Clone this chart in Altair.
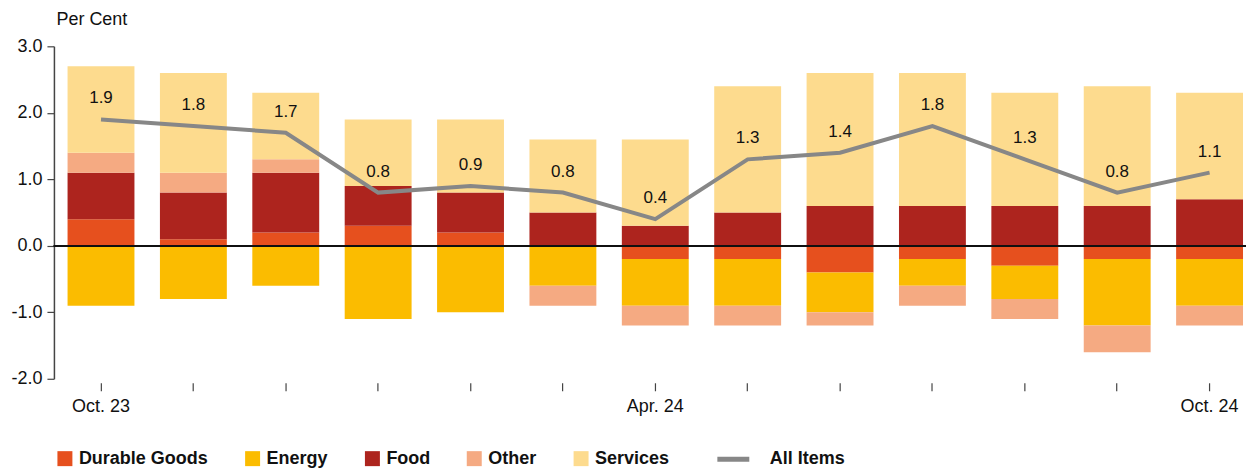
import altair as alt
import pandas as pd

months = ["Oct. 23", "Nov. 23", "Dec. 23", "Jan. 24", "Feb. 24", "Mar. 24", "Apr. 24",
          "May 24", "Jun. 24", "Jul. 24", "Aug. 24", "Sep. 24", "Oct. 24"]
shown_labels = ["Oct. 23", "Apr. 24", "Oct. 24"]

durable = [0.4, 0.1, 0.2, 0.3, 0.2, 0.0, -0.2, -0.2, -0.4, -0.2, -0.3, -0.2, -0.2]
energy = [-0.9, -0.8, -0.6, -1.1, -1.0, -0.6, -0.7, -0.7, -0.6, -0.4, -0.5, -1.0, -0.7]
food = [0.7, 0.7, 0.9, 0.6, 0.6, 0.5, 0.3, 0.5, 0.6, 0.6, 0.6, 0.6, 0.7]
other = [0.3, 0.3, 0.2, 0.0, 0.0, -0.3, -0.3, -0.3, -0.2, -0.3, -0.3, -0.4, -0.3]
services = [1.3, 1.5, 1.0, 1.0, 1.1, 1.1, 1.3, 1.9, 2.0, 2.0, 1.7, 1.8, 1.6]
all_items = [1.9, 1.8, 1.7, 0.8, 0.9, 0.8, 0.4, 1.3, 1.4, 1.8, 1.3, 0.8, 1.1]

components = ["Durable Goods", "Energy", "Food", "Other", "Services"]
comp_colors = ["#E6501E", "#FBBC00", "#AD241E", "#F5AA82", "#FDDB8E"]
line_name = "All Items"
line_color = "#878787"

FONT = "Liberation Sans"

rows = []
for i, m in enumerate(months):
    for k, (name, vals) in enumerate(zip(components, [durable, energy, food, other, services])):
        rows.append({"month": m, "component": name, "value": vals[i], "ord": k})
bars_df = pd.DataFrame(rows)
line_df = pd.DataFrame({"month": months, "value": all_items, "series": [line_name] * len(months)})

label_list = "[" + ",".join("'" + s + "'" for s in shown_labels) + "]"

x_enc = alt.X(
    "month:N",
    sort=months,
    scale=alt.Scale(paddingInner=0.276, paddingOuter=0.09, align=0.82),
    axis=alt.Axis(
        title=None, domain=False, ticks=True, tickSize=8, tickColor="#444444", tickWidth=1.2,
        offset=4, labelAngle=0, labelFont=FONT, labelFontSize=18, labelColor="#111111",
        labelPadding=7, labelExpr="indexof(" + label_list + ", datum.value) >= 0 ? datum.value : ''",
    ),
)

y_scale = alt.Scale(domain=[-2, 3], nice=False)

bars = alt.Chart(bars_df).mark_bar(size=67).encode(
    x=x_enc,
    y=alt.Y(
        "value:Q",
        stack="zero",
        scale=y_scale,
        axis=alt.Axis(
            values=[-2, -1, 0, 1, 2, 3], grid=False, domainColor="#444444", domainWidth=1.5,
            tickColor="#444444", tickSize=7, tickWidth=1.2, labelFont=FONT, labelFontSize=18,
            labelColor="#111111", labelPadding=5,
            labelExpr="(datum.value < 0 ? '-' : '') + format(abs(datum.value), '.1f')",
            title="Per Cent", titleAngle=0, titleAlign="left", titleBaseline="middle",
            titleX=2, titleY=-27, titleFont=FONT, titleFontSize=18, titleFontWeight="normal",
            titleColor="#111111",
        ),
    ),
    color=alt.Color(
        "component:N",
        scale=alt.Scale(domain=components, range=comp_colors),
        legend=alt.Legend(
            orient="none", legendX=2, legendY=404, direction="horizontal", title=None,
            symbolType="square", symbolSize=225, symbolStrokeWidth=0, labelFont=FONT,
            labelFontSize=18, labelFontWeight="bold", labelColor="#111111",
            columnPadding=35, labelOffset=5,
        ),
    ),
    order=alt.Order("ord:Q"),
)

zero = alt.Chart(line_df).mark_rule(color="#111111", strokeWidth=1.3).encode(
    y=alt.datum(0),
)

line = alt.Chart(line_df).mark_line(strokeWidth=4).encode(
    x=alt.X("month:N", sort=months),
    y=alt.Y("value:Q", scale=y_scale),
    stroke=alt.Stroke(
        "series:N",
        scale=alt.Scale(domain=[line_name], range=[line_color]),
        legend=alt.Legend(
            orient="none", legendX=662, legendY=395, title=None, symbolType="stroke",
            symbolSize=1024, symbolStrokeWidth=5, labelFont=FONT, labelFontSize=18,
            labelFontWeight="bold", labelColor="#111111", labelOffset=18,
        ),
    ),
)

labels = alt.Chart(line_df).mark_text(
    dy=-21, font=FONT, fontSize=17, color="#111111", baseline="middle"
).encode(
    x=alt.X("month:N", sort=months),
    y=alt.Y("value:Q", scale=y_scale),
    text=alt.Text("value:Q", format=".1f"),
)

chart = alt.layer(bars, zero, line, labels).resolve_scale(color="independent").properties(
    width=1194,
    height=333,
    autosize=alt.AutoSizeParams(type="none"),
    padding={"left": 46, "top": 38, "right": 2, "bottom": 94},
).configure_view(stroke=None).configure_legend(padding=0)

chart.save("out.html", embed_options={"renderer": "svg", "actions": False})
